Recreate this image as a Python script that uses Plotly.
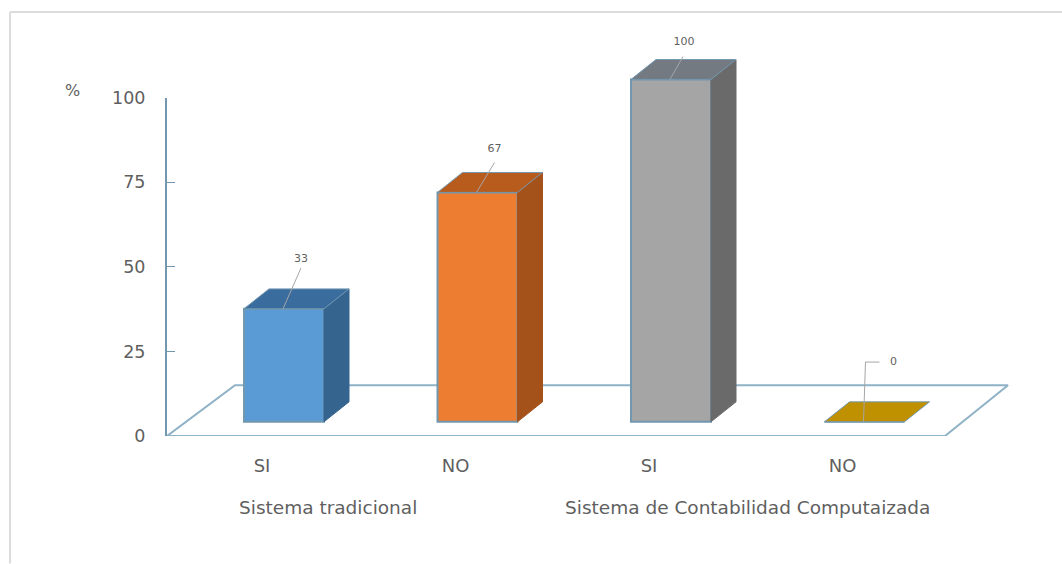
import plotly.graph_objects as go

# Chart data
categories = ["SI", "NO", "SI", "NO"]
values = [33, 67, 100, 0]
groups = ["Sistema tradicional", "Sistema de Contabilidad Computaizada"]
y_ticks = [0, 25, 50, 75, 100]

# Face colours of each column
front_colors = ["#5b9bd5", "#ed7d31", "#a5a5a5", "#bf9000"]
side_colors = ["#35648f", "#a5521a", "#6a6a6a", "#8f6c00"]
top_colors = ["#3a6d9e", "#b85c1e", "#737a82", "#bf9000"]

EDGE = "#7298b0"
FLOOR_EDGE = "#8fb2c6"
TEXT = "#5f5f5f"
LEADER = "#a6a6a6"
FONT = "DejaVu Sans"

# Page geometry, in pixels
W, H = 1062, 564
L, R, T, B = 167, 1010, 20, 436
AXIS_TOP = 96           # where the 100 tick sits
X_UNIT = 193.5          # pixels between neighbouring columns
X_ORIGIN = 284          # pixel position of the first column
Y_UNIT = (B - AXIS_TOP) / 100  # pixels per percent on the visible axis
BAR_UNIT = 3.44         # pixels per percent on the raised column plane
BAR_FLOOR = 421.7       # pixel position of the column bases

def xu(px):
    return px / X_UNIT

def paper_x(px):
    return (px - L) / (R - L)

def paper_y(py):
    return (B - py) / (B - T)

x_range = [xu(L - X_ORIGIN), xu(R - X_ORIGIN)]
bar_range = [-(B - BAR_FLOOR) / BAR_UNIT, (BAR_FLOOR - T) / BAR_UNIT]

bar_width = xu(80)
depth_x = xu(25)
depth_y = 20 / BAR_UNIT
positions = list(range(len(values)))

fig = go.Figure()

# Floor plane
floor_x = [xu(L - X_ORIGIN), xu(945 - X_ORIGIN), xu(1008 - X_ORIGIN), xu(235 - X_ORIGIN), xu(L - X_ORIGIN)]
floor_y = [0, 0, 51 / Y_UNIT, 51 / Y_UNIT, 0]
fig.add_trace(go.Scatter(x=floor_x, y=floor_y, mode="lines", fill="toself",
                         fillcolor="white", line=dict(color=FLOOR_EDGE, width=2),
                         cliponaxis=False, showlegend=False, hoverinfo="skip"))

# Front faces
fig.add_trace(go.Bar(x=positions, y=values, width=bar_width, yaxis="y2",
                     marker=dict(color=front_colors, line=dict(color=EDGE, width=2)),
                     cliponaxis=False, showlegend=False))

# Side and top faces follow each column's value
for i, v in enumerate(values):
    x0, x1 = i - bar_width / 2, i + bar_width / 2
    if v > 0:
        fig.add_trace(go.Scatter(
            x=[x1, x1 + depth_x, x1 + depth_x, x1, x1],
            y=[0, depth_y, v + depth_y, v, 0],
            yaxis="y2", mode="lines", fill="toself", fillcolor=side_colors[i],
            line=dict(color=side_colors[i], width=1),
            cliponaxis=False, showlegend=False, hoverinfo="skip"))
    fig.add_trace(go.Scatter(
        x=[x0, x1, x1 + depth_x, x0 + depth_x, x0],
        y=[v, v, v + depth_y, v + depth_y, v],
        yaxis="y2", mode="lines", fill="toself", fillcolor=top_colors[i],
        line=dict(color=EDGE, width=1),
        cliponaxis=False, showlegend=False, hoverinfo="skip"))

# Leader lines and value labels; offsets are in pixels from the top of each column
leader_offsets = [(18, 41), (18, 30), (13, 23), (2, 60)]
label_gaps = [(0, 9), (0, 13), (1, 14), (28, 0)]
for i, v in enumerate(values):
    dx, dy = leader_offsets[i]
    gx, gy = label_gaps[i]
    xs = [i - xu(1), i - xu(1) + xu(dx)]
    ys = [v, v + dy / BAR_UNIT]
    if v == 0:
        xs.append(xs[-1] + xu(14))
        ys.append(ys[-1])
    fig.add_trace(go.Scatter(x=xs, y=ys, yaxis="y2", mode="lines",
                             line=dict(color=LEADER, width=1),
                             cliponaxis=False, showlegend=False, hoverinfo="skip"))
    fig.add_trace(go.Scatter(x=[xs[1] + xu(gx)], y=[ys[1] + gy / BAR_UNIT], yaxis="y2",
                             mode="text", text=[str(v)], textposition="middle center",
                             textfont=dict(family=FONT, size=11, color=TEXT),
                             cliponaxis=False, showlegend=False, hoverinfo="skip"))

annotations = [
    dict(text="%", x=paper_x(72), y=paper_y(89), xref="paper", yref="paper",
         xanchor="center", yanchor="middle", showarrow=False,
         font=dict(family=FONT, size=16, color=TEXT)),
    dict(text=groups[0], x=xu(327.5 - X_ORIGIN), y=paper_y(508), xref="x", yref="paper",
         xanchor="center", yanchor="middle", showarrow=False,
         font=dict(family=FONT, size=18.5, color=TEXT)),
    dict(text=groups[1], x=xu(747.5 - X_ORIGIN), y=paper_y(508), xref="x", yref="paper",
         xanchor="center", yanchor="middle", showarrow=False,
         font=dict(family=FONT, size=18.5, color=TEXT)),
]

# Thin frame along the top and left of the chart area
frame = dict(type="line", line=dict(color="#dcdcdc", width=2), xref="paper", yref="paper")
shapes = [
    dict(frame, x0=paper_x(10), x1=paper_x(W), y0=paper_y(10), y1=paper_y(10)),
    dict(frame, x0=paper_x(10), x1=paper_x(10), y0=paper_y(10), y1=paper_y(H)),
]

fig.update_layout(
    width=W, height=H, margin=dict(l=L, r=W - R, t=T, b=H - B),
    paper_bgcolor="white", plot_bgcolor="rgba(0,0,0,0)",
    barmode="overlay", annotations=annotations, shapes=shapes,
    xaxis=dict(range=x_range, tickmode="array",
               tickvals=[i - xu(22) for i in positions], ticktext=categories,
               showgrid=False, zeroline=False, showline=False, ticks="",
               ticklabelstandoff=17,
               tickfont=dict(family=FONT, size=18, color=TEXT)),
    # The visible axis stops at the 100 tick; the column plane uses the full height
    yaxis=dict(domain=[0, paper_y(AXIS_TOP)], range=[0, 100],
               tickmode="array", tickvals=y_ticks,
               showgrid=False, zeroline=False, showline=True,
               linecolor="#7298b0", linewidth=2,
               ticks="inside", ticklen=8, tickcolor="#7298b0", tickwidth=1,
               ticklabelstandoff=16,
               tickfont=dict(family=FONT, size=17.5, color=TEXT)),
    yaxis2=dict(domain=[0, 1], range=bar_range, anchor="x", visible=False),
)

fig.write_html("out.html")
